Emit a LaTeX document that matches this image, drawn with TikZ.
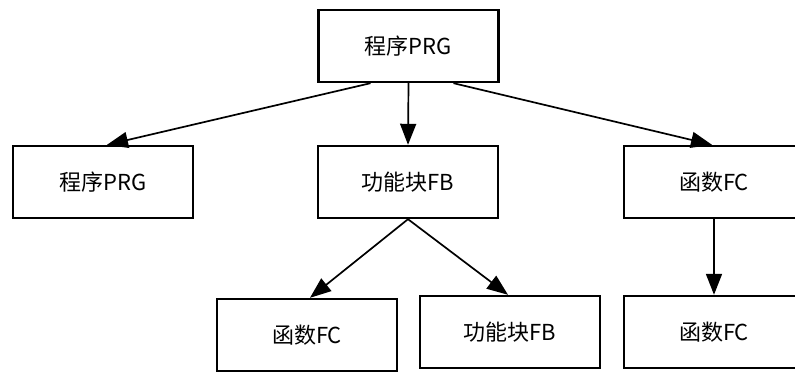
\documentclass[tikz,border=0pt]{standalone}
\usepackage{fontspec}
\newfontfamily\cjk{Noto Sans CJK SC}
\usetikzlibrary{arrows.meta}
\begin{document}
\begin{tikzpicture}[x=1pt,y=-1pt,
  box/.style={draw=black, line width=2.4pt, fill=white, minimum width=180pt, minimum height=72pt, inner sep=0pt, font=\cjk\fontsize{22}{26}\selectfont},
  arr/.style={draw=black, line width=1.7pt, -{Triangle[length=21pt,width=16pt]}}]
\useasboundingbox (0,0) rectangle (795,374);
\clip (0,0) rectangle (795,374);
\node[box] (top) at (408.5,46) {程序PRG};
\node[box] (L) at (103,182) {程序PRG};
\node[box] (M) at (408,182) {功能块FB};
\node[box] (R) at (714,182) {函数FC};
\node[box] (B1) at (307,335) {函数FC};
\node[box] (B2) at (510,332) {功能块FB};
\node[box] (B3) at (714,332) {函数FC};
\draw[arr] ([xshift=-38pt]top.south) -- ([xshift=4pt]L.north);
\draw[arr] (top.south) -- (M.north);
\draw[arr] ([xshift=45pt]top.south) -- ([xshift=-2pt]R.north);
\draw[arr] (M.south) -- ([xshift=3pt]B1.north);
\draw[arr] (M.south) -- ([xshift=-2pt]B2.north);
\draw[arr] (R.south) -- (B3.north);
\end{tikzpicture}
\end{document}
